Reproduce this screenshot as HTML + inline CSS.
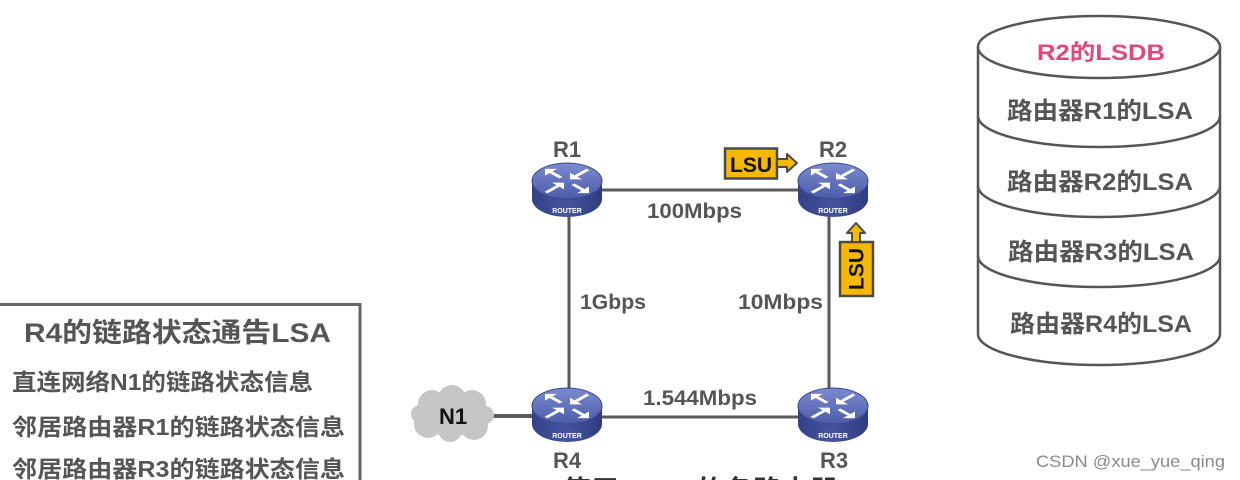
<!DOCTYPE html>
<html><head><meta charset="utf-8"><style>
html,body{margin:0;padding:0;background:#fff;width:1240px;height:480px;overflow:hidden;}
svg{display:block;overflow:hidden;}
text{font-family:"Liberation Sans","Noto Sans CJK SC",sans-serif;font-weight:bold;}
</style></head><body>
<svg width="1240" height="480" viewBox="0 0 1240 480" xmlns="http://www.w3.org/2000/svg">
<defs>
<linearGradient id="rg" x1="0" y1="0" x2="0" y2="1">
<stop offset="0" stop-color="#7c8bd0"/><stop offset="1" stop-color="#4b5ba8"/>
</linearGradient>
<linearGradient id="sg" x1="0" y1="0" x2="1" y2="0">
<stop offset="0" stop-color="#34418a"/><stop offset="0.5" stop-color="#46549f"/><stop offset="1" stop-color="#2f3b80"/>
</linearGradient>
</defs>

<!-- links -->
<g stroke="#595959" stroke-width="3" fill="none">
<line x1="600" y1="190" x2="800" y2="190"/>
<line x1="569" y1="214" x2="569" y2="392"/>
<line x1="829" y1="214" x2="829" y2="392"/>
<line x1="600" y1="417" x2="800" y2="417"/>
</g>
<line x1="490" y1="416" x2="534" y2="416" stroke="#595959" stroke-width="4"/>

<!-- N1 cloud -->
<g fill="#c6c6c6">
<ellipse cx="452" cy="416" rx="36" ry="20"/>
<circle cx="432" cy="404" r="14"/>
<circle cx="452" cy="399" r="14"/>
<circle cx="472" cy="404" r="14"/>
<circle cx="428" cy="424" r="14"/>
<circle cx="450" cy="430" r="12"/>
<circle cx="474" cy="426" r="14"/>
<circle cx="420" cy="414" r="9"/>
<circle cx="485" cy="415" r="9"/>
</g>
<text x="453" y="424" font-size="22" fill="#111" text-anchor="middle">N1</text>

<!-- Routers -->
<g transform="translate(567,190)">
<path d="M-35 -9 L-35 9 A35 18 0 0 0 35 9 L35 -9 Z" fill="url(#sg)"/>
<ellipse cx="0" cy="-9" rx="35" ry="18" fill="url(#rg)" stroke="#3a4790" stroke-width="1"/>
<g transform="translate(0,-9) scale(1,0.55)" stroke="#fff" stroke-width="4" fill="#fff">
<line x1="-6" y1="-6" x2="-16" y2="-16"/><polygon points="-22,-22 -22,-10 -10,-22" stroke="none"/>
<line x1="6" y1="6" x2="16" y2="16"/><polygon points="22,22 22,10 10,22" stroke="none"/>
<line x1="21" y1="-21" x2="9" y2="-9"/><polygon points="3,-3 3,-15 15,-3" stroke="none"/>
<line x1="-21" y1="21" x2="-9" y2="9"/><polygon points="-3,3 -3,15 -15,3" stroke="none"/>
</g>
<text x="0" y="23" font-size="7" fill="#fff" text-anchor="middle">ROUTER</text>
</g>
<g transform="translate(833,190)">
<path d="M-35 -9 L-35 9 A35 18 0 0 0 35 9 L35 -9 Z" fill="url(#sg)"/>
<ellipse cx="0" cy="-9" rx="35" ry="18" fill="url(#rg)" stroke="#3a4790" stroke-width="1"/>
<g transform="translate(0,-9) scale(1,0.55)" stroke="#fff" stroke-width="4" fill="#fff">
<line x1="-6" y1="-6" x2="-16" y2="-16"/><polygon points="-22,-22 -22,-10 -10,-22" stroke="none"/>
<line x1="6" y1="6" x2="16" y2="16"/><polygon points="22,22 22,10 10,22" stroke="none"/>
<line x1="21" y1="-21" x2="9" y2="-9"/><polygon points="3,-3 3,-15 15,-3" stroke="none"/>
<line x1="-21" y1="21" x2="-9" y2="9"/><polygon points="-3,3 -3,15 -15,3" stroke="none"/>
</g>
<text x="0" y="23" font-size="7" fill="#fff" text-anchor="middle">ROUTER</text>
</g>
<g transform="translate(567,415)">
<path d="M-35 -9 L-35 9 A35 18 0 0 0 35 9 L35 -9 Z" fill="url(#sg)"/>
<ellipse cx="0" cy="-9" rx="35" ry="18" fill="url(#rg)" stroke="#3a4790" stroke-width="1"/>
<g transform="translate(0,-9) scale(1,0.55)" stroke="#fff" stroke-width="4" fill="#fff">
<line x1="-6" y1="-6" x2="-16" y2="-16"/><polygon points="-22,-22 -22,-10 -10,-22" stroke="none"/>
<line x1="6" y1="6" x2="16" y2="16"/><polygon points="22,22 22,10 10,22" stroke="none"/>
<line x1="21" y1="-21" x2="9" y2="-9"/><polygon points="3,-3 3,-15 15,-3" stroke="none"/>
<line x1="-21" y1="21" x2="-9" y2="9"/><polygon points="-3,3 -3,15 -15,3" stroke="none"/>
</g>
<text x="0" y="23" font-size="7" fill="#fff" text-anchor="middle">ROUTER</text>
</g>
<g transform="translate(833,415)">
<path d="M-35 -9 L-35 9 A35 18 0 0 0 35 9 L35 -9 Z" fill="url(#sg)"/>
<ellipse cx="0" cy="-9" rx="35" ry="18" fill="url(#rg)" stroke="#3a4790" stroke-width="1"/>
<g transform="translate(0,-9) scale(1,0.55)" stroke="#fff" stroke-width="4" fill="#fff">
<line x1="-6" y1="-6" x2="-16" y2="-16"/><polygon points="-22,-22 -22,-10 -10,-22" stroke="none"/>
<line x1="6" y1="6" x2="16" y2="16"/><polygon points="22,22 22,10 10,22" stroke="none"/>
<line x1="21" y1="-21" x2="9" y2="-9"/><polygon points="3,-3 3,-15 15,-3" stroke="none"/>
<line x1="-21" y1="21" x2="-9" y2="9"/><polygon points="-3,3 -3,15 -15,3" stroke="none"/>
</g>
<text x="0" y="23" font-size="7" fill="#fff" text-anchor="middle">ROUTER</text>
</g>

<!-- router labels -->
<g fill="#555" font-size="22" text-anchor="middle">
<text x="567" y="157">R1</text>
<text x="833" y="157">R2</text>
<text x="567" y="468">R4</text>
<text x="834" y="468">R3</text>
</g>
<!-- link labels -->
<g fill="#555" font-size="21">
<text x="647" y="218" textLength="95" lengthAdjust="spacingAndGlyphs">100Mbps</text>
<text x="580" y="309" textLength="66" lengthAdjust="spacingAndGlyphs">1Gbps</text>
<text x="738" y="309" textLength="85" lengthAdjust="spacingAndGlyphs">10Mbps</text>
<text x="643" y="405" textLength="114" lengthAdjust="spacingAndGlyphs">1.544Mbps</text>
</g>

<!-- LSU horizontal -->
<rect x="725" y="148.5" width="52" height="30" fill="#f6b800" stroke="#4a4a4a" stroke-width="2.5"/>
<polygon points="777,159 787,159 787,154 797,163 787,172 787,167 777,167" fill="#f6b800" stroke="#4a4a4a" stroke-width="2" stroke-linejoin="round"/>
<text x="751" y="172" font-size="21" fill="#111" text-anchor="middle">LSU</text>

<!-- LSU vertical -->
<rect x="840" y="242" width="33" height="54" fill="#f6b800" stroke="#4a4a4a" stroke-width="2.5"/>
<polygon points="852,242 852,233 847,233 856,223 865,233 860,233 860,242" fill="#f6b800" stroke="#4a4a4a" stroke-width="2" stroke-linejoin="round"/>
<text x="856" y="269" font-size="21" fill="#111" text-anchor="middle" transform="rotate(-90 856 269)" dy="7.5">LSU</text>

<!-- LSDB cylinder -->
<g fill="none" stroke="#555" stroke-width="2.5">
<path d="M978 47 L978 334 A121 31 0 0 0 1220 334 L1220 47" fill="#fff"/>
<ellipse cx="1099" cy="47" rx="121" ry="31" fill="#fff"/>
<path d="M978 116 A121 31 0 0 0 1220 116"/>
<path d="M978 186 A121 31 0 0 0 1220 186"/>
<path d="M978 256 A121 31 0 0 0 1220 256"/>
</g>
<text x="1101" y="60" font-size="22" fill="#e2467f" text-anchor="middle" textLength="128" lengthAdjust="spacingAndGlyphs" style="font-weight:bold">R2的LSDB</text>
<g fill="#555" font-size="24" text-anchor="middle">
<text x="1100" y="119" textLength="186" lengthAdjust="spacingAndGlyphs">路由器R1的LSA</text>
<text x="1100" y="190" textLength="186" lengthAdjust="spacingAndGlyphs">路由器R2的LSA</text>
<text x="1101" y="260" textLength="186" lengthAdjust="spacingAndGlyphs">路由器R3的LSA</text>
<text x="1101" y="332" textLength="182" lengthAdjust="spacingAndGlyphs">路由器R4的LSA</text>
</g>

<!-- Left LSA box -->
<path d="M0 304.5 L360 304.5 L360 480" fill="none" stroke="#666" stroke-width="3"/>
<g fill="#555">
<text x="24" y="342" font-size="27" textLength="307" lengthAdjust="spacingAndGlyphs">R4的链路状态通告LSA</text>
<text x="12" y="390" font-size="23" textLength="301" lengthAdjust="spacingAndGlyphs">直连网络N1的链路状态信息</text>
<text x="12" y="435" font-size="23" textLength="333" lengthAdjust="spacingAndGlyphs">邻居路由器R1的链路状态信息</text>
<text x="12" y="477" font-size="23" textLength="333" lengthAdjust="spacingAndGlyphs">邻居路由器R3的链路状态信息</text>
</g>

<!-- bottom cut-off caption -->
<text x="562" y="501" font-size="29" fill="#333" textLength="276" lengthAdjust="spacingAndGlyphs">使用OSPF的各路由器</text>

<!-- watermark -->
<text x="1036" y="467" font-size="17" fill="#8a8a8a" style="font-weight:normal" textLength="189" lengthAdjust="spacingAndGlyphs">CSDN @xue_yue_qing</text>
</svg>
</body></html>
